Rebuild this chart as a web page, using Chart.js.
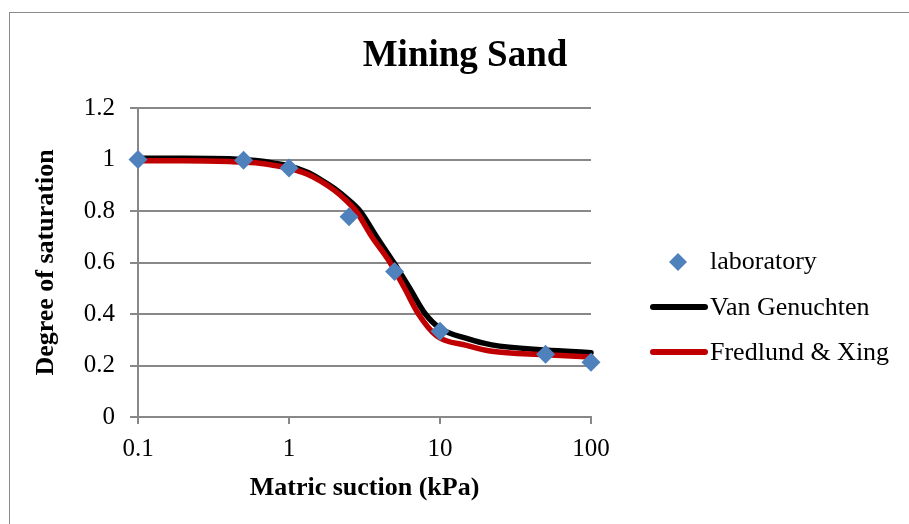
<!DOCTYPE html>
<html>
<head>
<meta charset="utf-8">
<script src="https://cdn.jsdelivr.net/npm/chart.js@4/dist/chart.umd.min.js"></script>
<style>
  html, body { margin: 0; padding: 0; background: #fff; overflow: hidden; }
  #wrap { position: relative; width: 909px; height: 524px; overflow: hidden; font-family: 'Liberation Serif', 'Times New Roman', serif; }
  #frame { position: absolute; left: 9px; top: 12px; width: 1000px; height: 700px; border: 1px solid #8a8a8a; box-sizing: border-box; }
  canvas { position: absolute; left: 0; top: 0; }
  #title { position: absolute; left: 0; width: 930px; top: 32px; line-height: 44px; text-align: center; font-weight: bold; font-size: 37px; color: #000; }
  .leg { position: absolute; left: 710px; font-size: 26px; line-height: 30px; color: #000; white-space: nowrap; }
  .mk { position: absolute; }
</style>
</head>
<body>
<div id="wrap">
  <div id="frame"></div>
  <canvas id="c" width="909" height="524"></canvas>
  <div id="title">Mining Sand</div>
  <svg class="mk" style="left:668px;top:252px" width="20" height="20"><polygon points="10,1 19,10 10,19 1,10" fill="#4F81BD"/></svg>
  <div class="leg" style="top:246px">laboratory</div>
  <svg class="mk" style="left:648px;top:302px" width="62" height="10"><line x1="5" y1="5" x2="57" y2="5" stroke="#000000" stroke-width="6" stroke-linecap="round"/></svg>
  <div class="leg" style="top:292px">Van Genuchten</div>
  <svg class="mk" style="left:648px;top:347px" width="62" height="10"><line x1="5" y1="5" x2="57" y2="5" stroke="#C00000" stroke-width="6" stroke-linecap="round"/></svg>
  <div class="leg" style="top:337px">Fredlund &amp; Xing</div>
</div>
<script>
// ---- data ----
const labSuction = [0.1, 0.5, 1, 2.5, 5, 10, 50, 100];
const labSaturation = [1.0, 0.997, 0.967, 0.778, 0.565, 0.333, 0.244, 0.213];

const vgSuction = [0.1, 0.2, 0.4, 0.6, 0.8, 1, 1.3, 1.6, 2, 2.4, 2.95, 3.8, 5, 6.3, 8, 10, 15, 22, 50, 100];
const vgSaturation = [1.005, 1.005, 1.003, 0.996, 0.986, 0.975, 0.952, 0.924, 0.887, 0.85, 0.8, 0.7, 0.595, 0.5, 0.4, 0.345, 0.305, 0.28, 0.26, 0.25];

const fxSuction = [0.1, 0.2, 0.4, 0.6, 0.8, 1, 1.3, 1.6, 2, 2.4, 2.78, 3.54, 4.67, 5.83, 7.2, 9.5, 15, 22, 50, 100];
const fxSaturation = [0.995, 0.995, 0.992, 0.987, 0.977, 0.966, 0.945, 0.918, 0.88, 0.84, 0.8, 0.7, 0.6, 0.5, 0.4, 0.315, 0.278, 0.255, 0.242, 0.233];

const xTickValues = [0.1, 1, 10, 100];
const xTickLabels = ['0.1', '1', '10', '100'];
const yTickValues = [0, 0.2, 0.4, 0.6, 0.8, 1, 1.2];
const yTickLabels = ['0', '0.2', '0.4', '0.6', '0.8', '1', '1.2'];

const toPts = (xs, ys) => xs.map((x, i) => ({ x: x, y: ys[i] }));
const FONT = "'Liberation Serif', 'Times New Roman', serif";
const GRID = '#888888';

new Chart(document.getElementById('c'), {
  type: 'scatter',
  data: {
    datasets: [
      {
        label: 'laboratory',
        data: toPts(labSuction, labSaturation),
        showLine: false,
        pointStyle: 'rectRot',
        pointRadius: 9.5,
        pointHoverRadius: 9.5,
        backgroundColor: '#4F81BD',
        borderColor: '#4F81BD',
        borderWidth: 0,
        order: 0,
        clip: false
      },
      {
        label: 'Fredlund & Xing',
        data: toPts(fxSuction, fxSaturation),
        showLine: true,
        borderColor: '#C00000',
        backgroundColor: '#C00000',
        borderWidth: 5.5,
        pointRadius: 0,
        cubicInterpolationMode: 'monotone',
        borderCapStyle: 'round',
        borderJoinStyle: 'round',
        order: 1,
        clip: false
      },
      {
        label: 'Van Genuchten',
        data: toPts(vgSuction, vgSaturation),
        showLine: true,
        borderColor: '#000000',
        backgroundColor: '#000000',
        borderWidth: 5.5,
        pointRadius: 0,
        cubicInterpolationMode: 'monotone',
        borderCapStyle: 'round',
        borderJoinStyle: 'round',
        order: 2,
        clip: false
      }
    ]
  },
  options: {
    responsive: false,
    animation: false,
    devicePixelRatio: 1,
    layout: { padding: { left: 0, top: 108, right: 318, bottom: 0 } },
    plugins: {
      legend: { display: false },
      title: { display: false },
      tooltip: { enabled: false }
    },
    scales: {
      x: {
        type: 'logarithmic',
        min: 0.1,
        max: 100,
        afterBuildTicks: (s) => { s.ticks = xTickValues.map(v => ({ value: v })); },
        afterFit: (s) => { s.height = 107; },
        ticks: {
          autoSkip: false,
          maxRotation: 0,
          padding: 10,
          color: '#000',
          font: { family: FONT, size: 25 },
          callback: (v, i) => xTickLabels[i]
        },
        grid: { display: true, drawOnChartArea: false, drawTicks: true, tickLength: 7, color: GRID, lineWidth: 2 },
        border: { display: true, color: GRID, width: 2 },
        title: {
          display: true,
          text: 'Matric suction (kPa)',
          color: '#000',
          font: { family: FONT, size: 26, weight: 'bold' },
          padding: { top: 0, bottom: 20 }
        }
      },
      y: {
        type: 'linear',
        min: 0,
        max: 1.2,
        afterBuildTicks: (s) => { s.ticks = yTickValues.map(v => ({ value: v })); },
        afterFit: (s) => { s.width = 138; },
        ticks: {
          padding: 15,
          color: '#000',
          font: { family: FONT, size: 25 },
          callback: (v, i) => yTickLabels[i]
        },
        grid: { display: true, drawOnChartArea: true, drawTicks: true, tickLength: 8, color: GRID, lineWidth: 2 },
        border: { display: true, color: GRID, width: 2 },
        title: {
          display: true,
          text: 'Degree of saturation',
          color: '#000',
          font: { family: FONT, size: 26, weight: 'bold' },
          padding: { top: 31, bottom: 0 }
        }
      }
    }
  }
});
</script>
</body>
</html>
